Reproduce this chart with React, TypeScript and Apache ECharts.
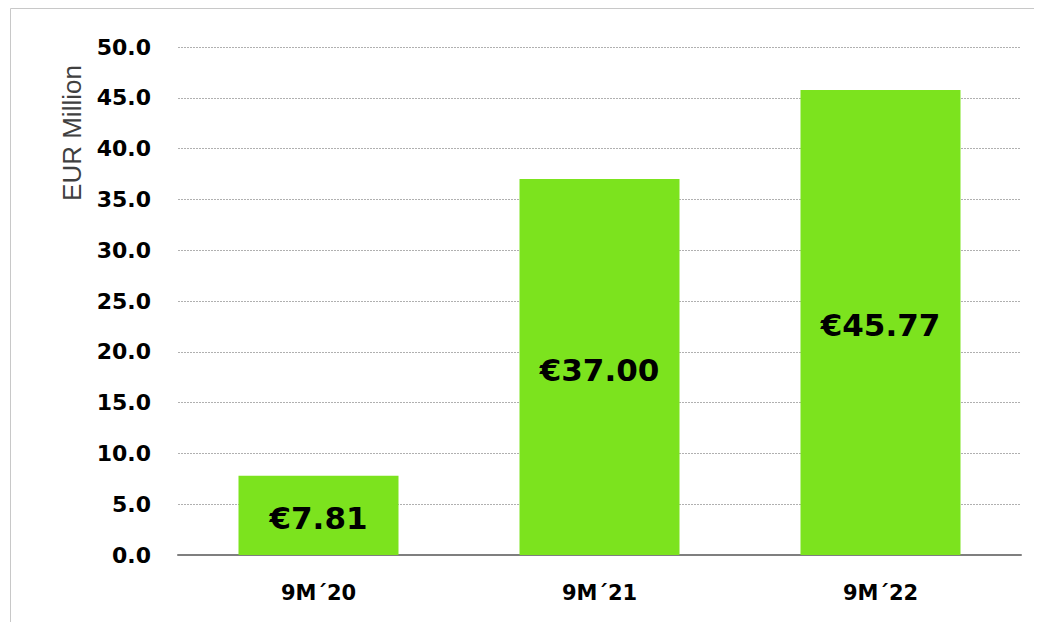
import React, { useEffect, useRef } from "react";
import * as echarts from "echarts";

const categories = ["9M´20", "9M´21", "9M´22"];
const values = [7.81, 37.0, 45.77];
const valueLabels = ["€7.81", "€37.00", "€45.77"];
const yAxisName = "EUR Million";

export default function App() {
  const ref = useRef<HTMLDivElement>(null);
  useEffect(() => {
    if (!ref.current) return;
    const chart = echarts.init(ref.current, undefined, { renderer: "svg" });
    chart.setOption({
      animation: false,
      backgroundColor: "#ffffff",
      grid: { left: 170, top: 39, right: 13, bottom: 67, containLabel: false },
      xAxis: {
        type: "category",
        data: categories,
        axisTick: { show: false },
        axisLine: { show: true, lineStyle: { color: "#7f7f7f", width: 2 } },
        axisLabel: {
          color: "#000",
          fontFamily: "DejaVu Sans",
          fontWeight: "bold",
          fontSize: 21,
          margin: 27,
        },
      },
      yAxis: {
        type: "value",
        min: 0,
        max: 50,
        interval: 5,
        axisLine: { show: false },
        axisTick: { show: false },
        axisLabel: {
          color: "#000",
          fontFamily: "DejaVu Sans",
          fontWeight: "bold",
          fontSize: 22,
          margin: 27,
          formatter: (v: number) => v.toFixed(1),
        },
        splitLine: { show: true, lineStyle: { color: "#b0b0b0", type: [2, 1], width: 1 } },
      },
      series: [
        {
          type: "bar",
          data: values,
          barWidth: 160,
          itemStyle: { color: "#7ce31e" },
          label: {
            show: true,
            position: "inside",
            offset: [0, 3],
            color: "#000",
            fontFamily: "DejaVu Sans",
            fontWeight: "bold",
            fontSize: 31,
            formatter: (p: any) => valueLabels[p.dataIndex],
          },
        },
      ],
      graphic: [
        {
          type: "rect",
          shape: { x: 2.5, y: 0.5, width: 3000, height: 3000 },
          style: { fill: "none", stroke: "#c8c8c8", lineWidth: 1 },
          silent: true,
        },
        {
          type: "text",
          x: 64,
          y: 125,
          rotation: Math.PI / 2,
          style: {
            text: yAxisName,
            fill: "#404040",
            font: "normal 26px 'Liberation Sans'",
            align: "center",
            verticalAlign: "middle",
          },
        },
      ],
    });
    return () => chart.dispose();
  }, []);
  return <div ref={ref} style={{ width: 1026, height: 614 }} />;
}
